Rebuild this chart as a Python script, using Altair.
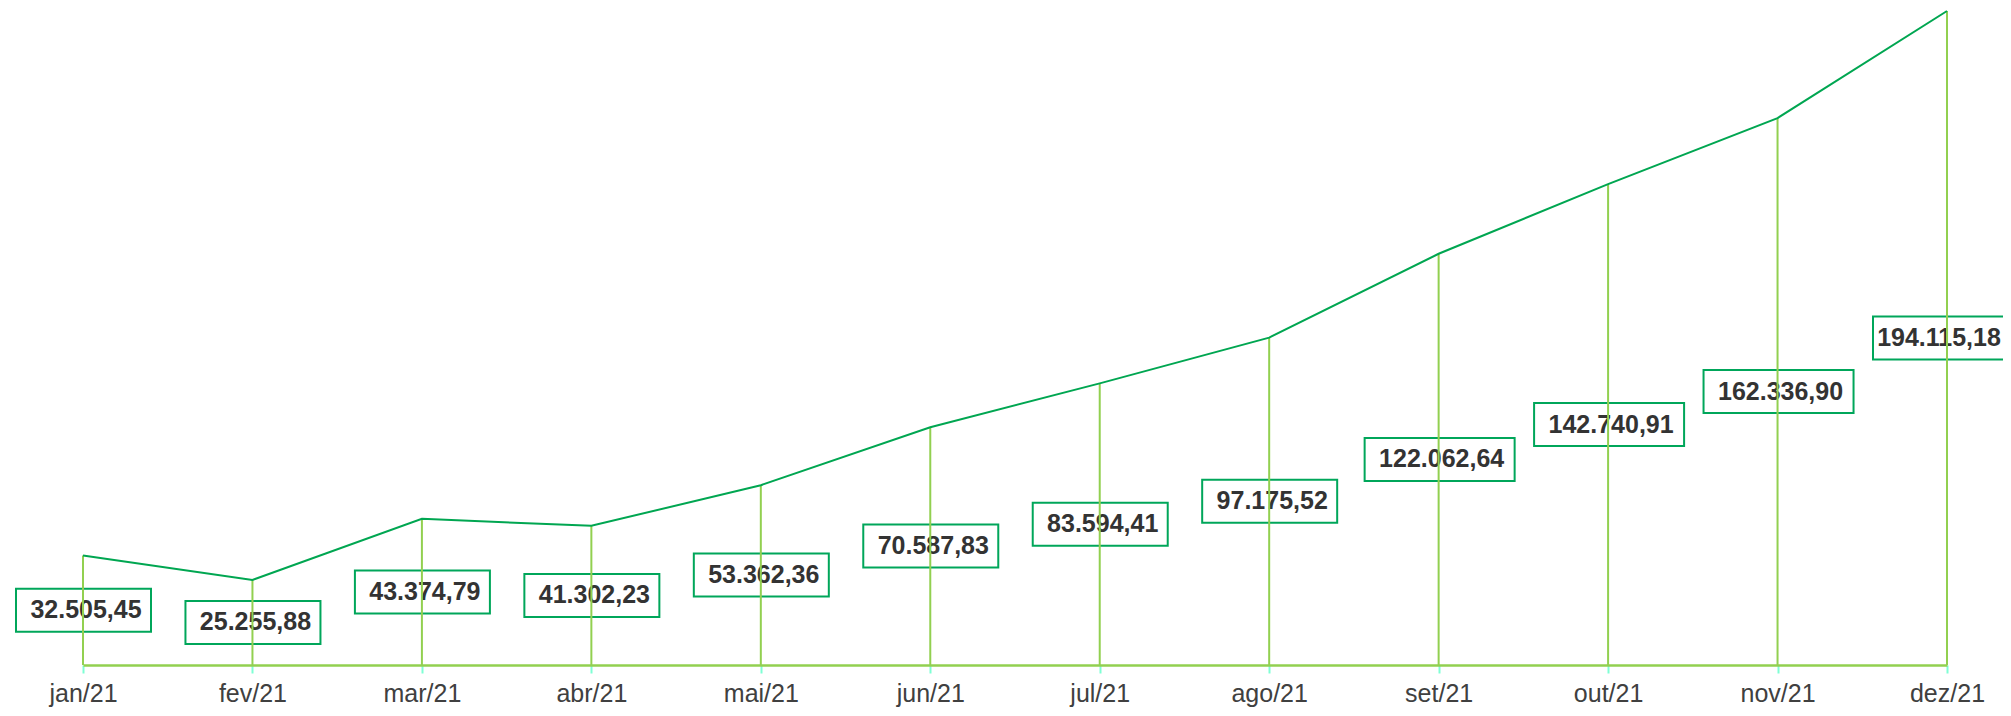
import altair as alt
import pandas as pd

months = ["jan/21", "fev/21", "mar/21", "abr/21", "mai/21", "jun/21",
          "jul/21", "ago/21", "set/21", "out/21", "nov/21", "dez/21"]
values = [32505.45, 25255.88, 43374.79, 41302.23, 53362.36, 70587.83,
          83594.41, 97175.52, 122062.64, 142740.91, 162336.90, 194115.18]


def br(v):
    s = f"{v:,.2f}"
    return s.replace(",", "X").replace(".", ",").replace("X", ".")


df = pd.DataFrame({
    "month": months,
    "value": values,
    "half": [v / 2 for v in values],
    "label": [br(v) for v in values],
})

W, H = 1864, 654
LINE = "#00A651"
LIME = "#92D050"
BOX = "#00A65A"
LAST = months[-1]

x = alt.X("month:O", sort=months, scale=alt.Scale(type="point", padding=0),
          axis=alt.Axis(title=None, labelAngle=0, labelFont="Liberation Sans",
                        labelFontSize=25, labelColor="#404040", labelPadding=8,
                        domainColor=LIME, domainWidth=2.5, tickColor="#7FFFD4",
                        tickWidth=2, tickSize=8, grid=False))
yscale = alt.Scale(domain=[0, 194115.18], nice=False, zero=True)
yhalf = alt.Y("half:Q", scale=yscale, axis=None)

base = alt.Chart(df)

small = base.transform_filter("datum.value < 100000").mark_rect(
    fill="white", stroke=BOX, strokeWidth=2,
    xOffset=-67, x2Offset=68, yOffset=-21.5, y2Offset=21.5
).encode(x=x, x2="month:O", y=yhalf, y2="half:Q")

big = base.transform_filter("datum.value >= 100000").mark_rect(
    fill="white", stroke=BOX, strokeWidth=2,
    xOffset=-74, x2Offset=76, yOffset=-21.5, y2Offset=21.5
).encode(x=x, x2="month:O", y=yhalf, y2="half:Q")

text = base.transform_filter(f"datum.month != '{LAST}'").mark_text(
    font="Liberation Sans", fontWeight="bold", fontSize=25,
    color="#333333", dx=3, baseline="middle").encode(
    x=x, y=yhalf, text="label:N")

text_last = base.transform_filter(f"datum.month == '{LAST}'").mark_text(
    font="Liberation Sans", fontWeight="bold", fontSize=25,
    color="#333333", dx=-8, baseline="middle").encode(
    x=x, y=yhalf, text="label:N")

drops = base.mark_rule(color=LIME, strokeWidth=2).encode(
    x=x, y=alt.Y("value:Q", scale=yscale, axis=None), y2=alt.datum(0))

line = base.mark_line(color=LINE, strokeWidth=2).encode(
    x=x, y=alt.Y("value:Q", scale=yscale, axis=None))

chart = alt.layer(small, big, text, text_last, drops, line).properties(
    width=W, height=H,
    autosize=alt.AutoSizeParams(type="none"),
    padding={"left": 75, "top": 3, "right": 56, "bottom": 43},
).configure(background="white").configure_view(strokeWidth=0, stroke="transparent")

chart.save("out.html", embed_options={"renderer": "svg", "actions": False})
